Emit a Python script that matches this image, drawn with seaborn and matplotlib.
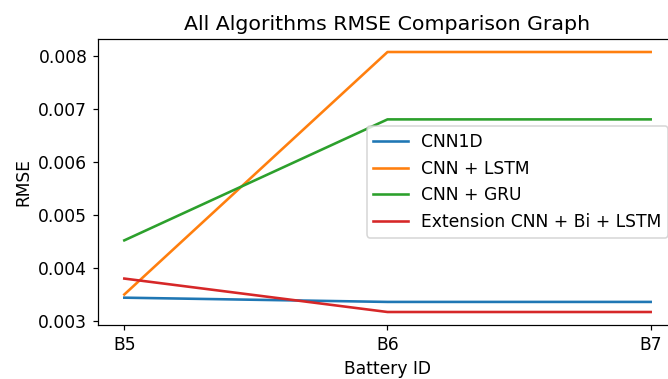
import matplotlib
matplotlib.use('Agg')
import matplotlib.pyplot as plt
import seaborn as sns
import pandas as pd

batteries = ['B5', 'B6', 'B7']
cnn1d = [0.00344, 0.00336, 0.00336]
cnn_lstm = [0.00350, 0.00807, 0.00807]
cnn_gru = [0.00452, 0.00680, 0.00680]
ext_bilstm = [0.00380, 0.00317, 0.00317]

series = {
    'CNN1D': cnn1d,
    'CNN + LSTM': cnn_lstm,
    'CNN + GRU': cnn_gru,
    'Extension CNN + Bi + LSTM': ext_bilstm,
}
colors = ['#1f77b4', '#ff7f0e', '#2ca02c', '#d62728']

plt.rcParams['font.size'] = 11.2
plt.rcParams['axes.titlesize'] = 13.4
plt.rcParams['lines.linewidth'] = 1.7

dpi = 110
fig = plt.figure(figsize=(668 / dpi, 379 / dpi), dpi=dpi)
ax = fig.add_axes([98 / 668, 1 - 325 / 379, (677 - 98) / 668, (325 - 39) / 379])

for (name, vals), c in zip(series.items(), colors):
    df = pd.DataFrame({'Battery ID': batteries, 'RMSE': vals})
    sns.lineplot(x='Battery ID', y='RMSE', data=df, color=c, label=name, ax=ax)

ax.set_title('All Algorithms RMSE Comparison Graph')
ax.set_xlabel('Battery ID')
ax.set_ylabel('RMSE')
ax.legend(loc='center right')

plt.savefig('out.png', dpi=dpi)
